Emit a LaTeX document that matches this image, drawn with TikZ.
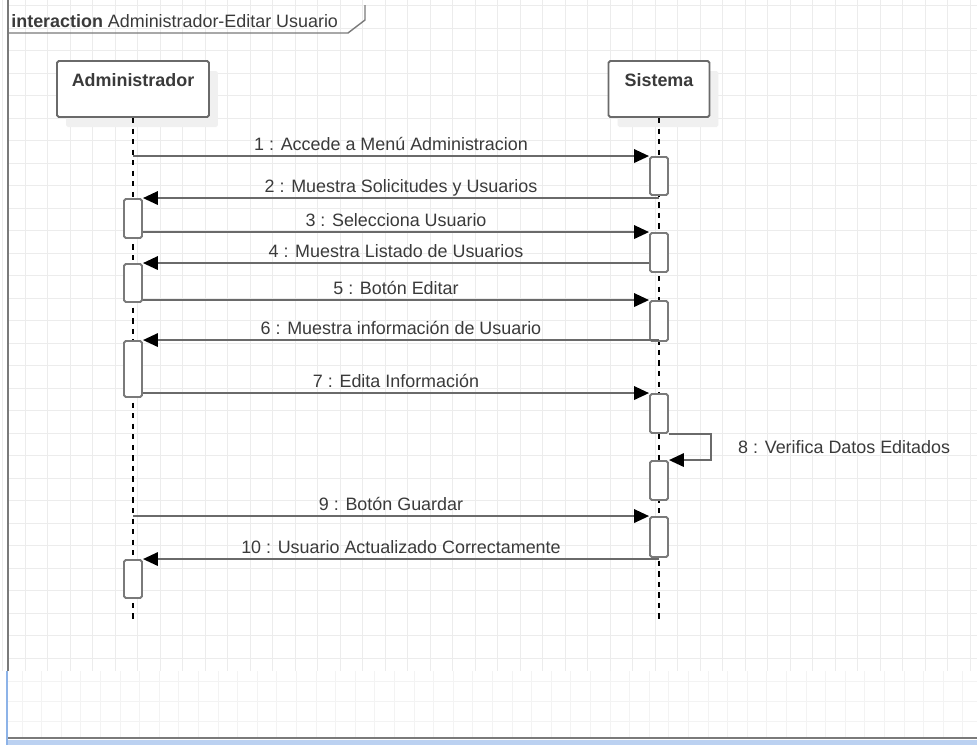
\documentclass[tikz,border=0pt]{standalone}
\usepackage{fontspec}
\setmainfont{Liberation Sans}
\usetikzlibrary{arrows.meta, positioning, shadows}

\definecolor{gridgray}{HTML}{ECECEC}
\definecolor{gridlight}{HTML}{F3F3F3}
\definecolor{framegray}{HTML}{7A7A7A}
\definecolor{linegray}{HTML}{6A6A6A}
\definecolor{boxgray}{HTML}{7A7A7A}
\definecolor{txtgray}{HTML}{3A3A3A}
\definecolor{winblue}{HTML}{8DB3E8}

\begin{document}
\begin{tikzpicture}[x=0.02cm, y=-0.02cm,
    every node/.style={font=\fontsize{10.2}{12}\selectfont, text=txtgray},
    lifebox/.style={draw=linegray, line width=1.1pt, rounded corners=1pt, fill=white,
        inner sep=0pt, font=\fontsize{10.2}{12}\selectfont\bfseries,
        text height=0.5cm, text depth=0.62cm,
        drop shadow={shadow xshift=0.18cm, shadow yshift=-0.2cm, fill=black!6, opacity=1}},
    act/.style={draw=boxgray, line width=1.1pt, rounded corners=1pt, fill=white,
        minimum width=0.36cm, inner sep=0pt},
    lifeline/.style={black, line width=0.6pt, dash pattern=on 3pt off 3pt},
    msg/.style={draw=linegray, line width=1.1pt, -{Triangle[length=0.3cm, width=0.27cm, color=black]}},
    lbl/.style={midway, anchor=base, yshift=0.11cm}
    ]

    \useasboundingbox (0,0) rectangle (977,745);
    \fill[white] (0,0) rectangle (977,745);

    % grid of the editor
    \foreach \gx in {2.5,25,...,977} \draw[gridgray, line width=0.5pt] (\gx,0) -- (\gx,671);
    \foreach \gy in {5.5,28,...,671} \draw[gridgray, line width=0.5pt] (8,\gy) -- (977,\gy);
    \foreach \gx in {22,41.6,...,977} \draw[gridlight, line width=0.5pt] (\gx,671) -- (\gx,737);
    \foreach \gy in {681,701,721} \draw[gridlight, line width=0.5pt] (8,\gy) -- (977,\gy);

    % frame
    \draw[framegray, line width=1.1pt] (8,0) -- (8,671);
    \draw[framegray, line width=0.8pt] (8,33) -- (348,33) -- (365,20) -- (365,5);
    \node[anchor=base west, inner sep=0pt] (title) at (11,27) {\textbf{interaction} Administrador-Editar Usuario};

    % window border
    \draw[winblue, line width=1.2pt] (7,671) -- (7,745);
    \draw[framegray, line width=1.2pt] (8,738) -- (977,738);
    \fill[winblue!60] (8,740) rectangle (977,745);

    % lifelines
    \coordinate (lifeend) at (0,620);
    \node[lifebox, minimum width=3.04cm] (admin) at (133,89) {Administrador};
    \node[lifebox, minimum width=2.02cm] (sis) at (659,89) {Sistema};
    \draw[lifeline] (admin.south) -- (admin.south |- lifeend);
    \draw[lifeline] (sis.south) -- (sis.south |- lifeend);

    % activations
    \node[act, minimum height=0.76cm] (s1) at (659,176) {};
    \node[act, minimum height=0.78cm] (a1) at (133,218.5) {};
    \node[act, minimum height=0.78cm] (s2) at (659,252.5) {};
    \node[act, minimum height=0.76cm] (a2) at (133,283) {};
    \node[act, minimum height=0.80cm] (s3) at (659,321) {};
    \node[act, minimum height=1.12cm] (a3) at (133,369) {};
    \node[act, minimum height=0.78cm] (s4) at (659,413.5) {};
    \node[act, minimum height=0.78cm] (s5) at (659,480.5) {};
    \node[act, minimum height=0.80cm] (s6) at (659,537) {};
    \node[act, minimum height=0.76cm] (a4) at (133,579) {};

    % messages
    \draw[msg] (admin |- s1.north west) -- (s1.north west) node[lbl] (m1) {1 : Accede a Menú Administracion};
    \draw[msg] (sis |- a1.north east) -- (a1.north east) node[lbl] (m2) {2 : Muestra Solicitudes y Usuarios};
    \draw[msg] (a1.east |- s2.north west) -- (s2.north west) node[lbl] (m3) {3 : Selecciona Usuario};
    \draw[msg] (s2.west |- a2.north east) -- (a2.north east) node[lbl] (m4) {4 : Muestra Listado de Usuarios};
    \draw[msg] (a2.east |- s3.north west) -- (s3.north west) node[lbl] (m5) {5 : Botón Editar};
    \draw[msg] (sis |- a3.north east) -- (a3.north east) node[lbl] (m6) {6 : Muestra información de Usuario};
    \draw[msg] (a3.east |- s4.north west) -- (s4.north west) node[lbl] (m7) {7 : Edita Información};
    \draw[msg] (s4.south east) -- ++(42,0) |- (s5.north east);
    \node[anchor=base west] (m8) at (732,453) {8 : Verifica Datos Editados};
    \draw[msg] (admin |- s6.north west) -- (s6.north west) node[lbl] (m9) {9 : Botón Guardar};
    \draw[msg] (sis |- a4.north east) -- (a4.north east) node[lbl] (m10) {10 : Usuario Actualizado Correctamente};

\end{tikzpicture}
\end{document}
